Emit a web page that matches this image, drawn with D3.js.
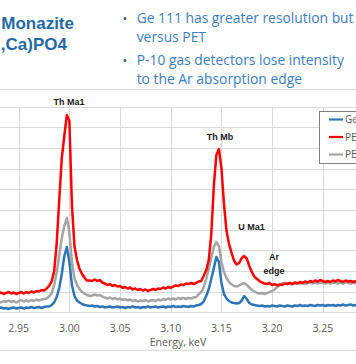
<!DOCTYPE html>
<html><head><meta charset="utf-8">
<script src="https://cdn.jsdelivr.net/npm/d3@7"></script>
<style>html,body{margin:0;padding:0;background:#fff;overflow:hidden}</style>
</head><body><svg id="c" width="356" height="364"></svg>
<script>
// ---- data (arbitrary intensity units) ----
const energyStart = 2.930, energyStep = 0.0025; // keV per channel
const ge111 = [3.4,4.4,3.4,3.9,2.9,3.9,4.4,3.4,3.9,4.4,3.4,4.4,3.9,4.9,3.9,4.4,4.9,3.9,4.9,5.4,
5.4,6.8,9.3,14.6,23.4,37.1,54.6,63.4,48.8,26.3,15.6,11.2,9.3,7.8,6.8,6.3,5.9,6.3,5.4,5.9,
4.9,5.4,4.4,4.9,5.4,4.4,4.9,5.4,4.4,4.9,3.9,4.9,4.4,5.4,4.4,4.9,3.9,4.9,4.4,5.4,
4.4,4.9,5.4,4.4,4.9,5.4,4.4,5.4,4.9,5.9,4.9,5.4,4.9,5.9,5.4,4.9,5.9,5.4,6.3,6.8,
7.8,10.2,15.6,22.4,32.2,42.9,53.7,48.8,28.3,17.6,13.2,10.7,9.3,8.8,8.3,8.8,11.2,15.6,12.7,8.8,
7.3,6.8,6.3,5.9,6.3,5.4,5.9,5.4,6.3,5.9,5.4,6.3,5.9,5.4,6.3,5.9,5.4,6.3,5.9,6.8,
5.9,6.3,5.9,6.8,6.3,5.9,6.8,6.3,6.8,5.9,6.8,6.3,6.8,5.9,6.8,6.3,7.3,6.3,6.8,7.3,
6.3,6.8,6.8];
const petXe = [18.0,19.0,17.6,18.5,19.5,18.0,19.0,17.6,18.5,19.5,18.0,19.5,18.5,20.0,19.0,20.5,20.0,21.5,21.0,22.9,
25.4,29.8,40.0,67.3,109.3,150.2,171.7,192.2,186.3,104.4,64.4,50.7,42.0,37.1,33.2,30.7,30.7,30.2,31.7,30.2,
31.2,28.8,27.8,26.3,27.3,25.4,26.3,24.9,25.4,23.4,24.4,22.9,23.9,22.0,22.9,21.5,22.4,21.0,22.0,20.5,
21.5,22.4,21.5,22.9,22.4,23.9,22.9,24.4,23.4,24.9,25.9,25.4,26.8,26.3,27.8,27.3,28.3,27.3,28.3,29.8,
30.2,35.1,41.0,50.7,76.1,122.9,153.2,159.0,140.5,105.4,79.0,66.3,57.6,49.8,46.3,47.8,52.7,54.6,52.2,44.9,
39.0,34.6,32.2,30.2,28.8,27.8,27.3,28.3,26.3,27.3,25.9,26.8,26.3,27.8,27.3,28.3,27.3,28.8,27.8,29.3,
28.3,29.8,28.8,30.2,29.3,30.7,29.8,31.2,30.2,29.3,30.2,29.3,30.7,29.8,31.2,30.2,29.3,30.7,29.8,30.2,
29.3,30.2,29.8];
const petP10 = [10.2,9.3,10.7,9.8,11.2,9.8,10.7,9.3,10.7,11.7,10.2,11.2,10.2,11.7,10.7,12.2,11.2,12.2,12.7,13.2,
15.1,18.5,26.3,39.0,55.6,72.2,83.9,91.7,78.0,48.8,33.2,26.3,22.4,19.5,18.0,16.6,15.6,16.1,17.1,16.1,
16.6,15.1,14.1,13.2,14.1,12.7,13.7,12.2,13.2,11.7,12.7,11.2,12.2,10.7,11.7,10.2,11.2,10.7,11.7,10.2,
11.2,11.7,10.7,12.2,11.2,12.7,11.7,13.2,12.2,13.2,12.2,13.7,12.7,13.7,12.7,13.7,13.2,14.1,14.6,17.1,
19.5,23.9,32.2,42.0,52.7,63.4,68.3,64.4,48.8,39.0,33.2,29.3,26.8,25.4,24.9,25.9,27.3,28.3,26.3,23.9,
21.5,20.0,18.5,18.0,18.5,17.6,18.5,19.5,20.5,22.0,24.4,26.3,27.8,28.3,27.3,28.3,27.3,27.8,28.8,27.8,
28.3,27.3,28.3,28.8,27.8,28.8,27.8,28.8,28.3,27.8,28.8,27.8,28.8,28.3,27.8,28.8,27.8,28.8,28.3,27.8,
28.8,27.8,28.3];
const seriesNames = ["Ge 111", "PET (Xe)", "PET (P-10)"];
const seriesColors = ["#2e75b6", "#ff0000", "#a5a5a5"];
const xTickValues = [2.95, 3.00, 3.05, 3.10, 3.15, 3.20, 3.25];
const gridX = [2.90, 2.95, 3.00, 3.05, 3.10, 3.15, 3.20, 3.25, 3.30];
const gridY = [0, 20, 40, 60, 80, 100, 120, 140, 160, 180, 200];
const peakNames = ["Th Ma1", "Th Mb", "U Ma1", "Ar", "edge"];
const peakEnergy = [2.9996, 3.1486, 3.1797, 3.2019, 3.2019];
const peakLevel = [202, 167.8, 80, 50.7, 37.1];
const bullets = [["Ge 111 has greater resolution but", "versus PET"],
                 ["P-10 gas detectors lose intensity", "to the Ar absorption edge"]];
const titleLines = ["Monazite", ",Ca)PO4"];

// ---- drawing ----
const svg = d3.select("#c");
const W = 356, H = 364;
const x = d3.scaleLinear().domain([2.95, 3.25]).range([18.7, 322.8]);
const y = d3.scaleLinear().domain([0, 200]).range([312, 107]);

// header
svg.append("line").attr("x1", 0).attr("x2", W).attr("y1", 89.5).attr("y2", 89.5)
  .attr("stroke", "#d9d9d9").attr("stroke-width", 1);
const tl = svg.append("g").attr("font-family", "Liberation Sans, Arial, sans-serif")
  .attr("font-weight", "bold").attr("font-size", 17).attr("fill", "#1f6aa5");
tl.append("text").attr("x", 74).attr("y", 28.5).attr("text-anchor", "end").text(titleLines[0]);
tl.append("text").attr("x", 67).attr("y", 49.5).attr("text-anchor", "end").text(titleLines[1]);

const bl = svg.append("g").attr("font-family", "Open Sans, sans-serif").attr("fill", "#3b7dbf");
const bulletY = [[22.5, 41.5], [64.5, 83.5]];
bullets.forEach((b, i) => {
  bl.append("text").attr("x", 125).attr("y", bulletY[i][0]).attr("text-anchor", "middle")
    .attr("font-size", 13).attr("fill", "#44546a").text("•");
  b.forEach((line, j) => {
    bl.append("text").attr("class", "bt").attr("x", 136.7).attr("y", bulletY[i][j])
      .attr("font-size", 13).text(line);
  });
});
// fit bullet font so first lines span the measured width
const first = bl.select("text.bt").node();
const wMeas = first.getComputedTextLength();
const fs = 13 * 217 / wMeas;
bl.selectAll("text.bt").attr("font-size", fs);

// chart bottom border
svg.append("line").attr("x1", 0).attr("x2", W).attr("y1", 350.5).attr("y2", 350.5)
  .attr("stroke", "#d9d9d9").attr("stroke-width", 1);

// gridlines
const g = svg.append("g");
g.selectAll("line.gy").data(gridY).join("line")
  .attr("x1", -20).attr("x2", W + 20)
  .attr("y1", d => Math.round(y(d)) + 0.5).attr("y2", d => Math.round(y(d)) + 0.5)
  .attr("stroke", "#d9d9d9").attr("stroke-width", 1);
g.selectAll("line.gx").data(gridX).join("line")
  .attr("x1", d => Math.round(x(d)) + 0.5).attr("x2", d => Math.round(x(d)) + 0.5)
  .attr("y1", y(200)).attr("y2", y(0))
  .attr("stroke", "#d9d9d9").attr("stroke-width", 1);

// x axis labels
const ax = svg.append("g").attr("font-family", "Open Sans, sans-serif").attr("fill", "#595959");
ax.selectAll("text.tk").data(xTickValues).join("text")
  .attr("x", d => x(d)).attr("y", 332).attr("text-anchor", "middle")
  .attr("font-size", 10.5).text(d => d.toFixed(2));
ax.append("text").attr("x", 178).attr("y", 346).attr("text-anchor", "middle")
  .attr("font-size", 10.5).text("Energy, keV");

// series
const series = [ge111, petXe, petP10];
const drawOrder = [2, 1, 0];
const line = d3.line().x((d, i) => x(energyStart + i * energyStep)).y(d => y(d));
const clip = svg.append("clipPath").attr("id", "pc").append("rect")
  .attr("x", -20).attr("y", y(200) - 30).attr("width", W + 40).attr("height", y(0) - y(200) + 30);
const sg = svg.append("g").attr("clip-path", "url(#pc)");
drawOrder.forEach(k => {
  sg.append("path").datum(series[k]).attr("d", line).attr("fill", "none")
    .attr("stroke", seriesColors[k]).attr("stroke-width", 2.5).attr("stroke-linejoin", "round");
});

// peak labels
svg.append("g").attr("font-family", "Liberation Sans, Arial, sans-serif").attr("font-weight", "bold")
  .attr("font-size", 9).attr("fill", "#1a1a1a")
  .selectAll("text").data(peakNames).join("text")
  .attr("x", (d, i) => x(peakEnergy[i])).attr("y", (d, i) => y(peakLevel[i]))
  .attr("text-anchor", "middle").text(d => d);

// legend
const lg = svg.append("g");
lg.append("rect").attr("x", 319.5).attr("y", 111.5).attr("width", 80).attr("height", 52)
  .attr("fill", "#fff").attr("stroke", "#7f7f7f").attr("stroke-width", 1);
const legendOrder = [0, 1, 2];
const legendY = [119.5, 137, 154.5];
legendOrder.forEach((k, j) => {
  lg.append("line").attr("x1", 329).attr("x2", 343).attr("y1", legendY[j]).attr("y2", legendY[j])
    .attr("stroke", seriesColors[k]).attr("stroke-width", 2.2);
  lg.append("text").attr("x", 345).attr("y", legendY[j] + 3.5)
    .attr("font-family", "Open Sans, sans-serif").attr("font-size", 10).attr("fill", "#595959")
    .text(seriesNames[k]);
});
</script></body></html>
